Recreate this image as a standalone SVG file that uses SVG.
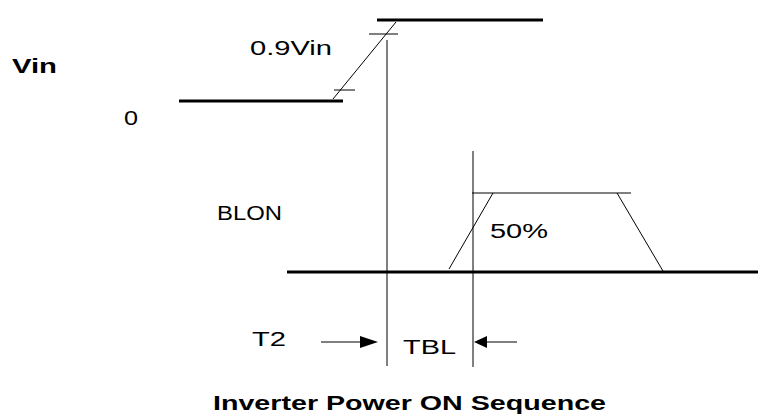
<svg xmlns="http://www.w3.org/2000/svg" width="759" height="414" viewBox="0 0 759 414">
<style>
.t{font-family:"Liberation Sans",Arial,sans-serif;font-size:20px;fill:#000}
.b{font-weight:bold}
.thick{stroke:#000;stroke-width:3;fill:none}
.thin{stroke:#000;stroke-width:1;fill:none}
.head{fill:#000;stroke:none}
</style>
<rect width="759" height="414" fill="#fff"/>
<g id="labels">
<text class="t b" x="12" y="73" font-size="22" textLength="45" lengthAdjust="spacingAndGlyphs">Vin</text>
<text class="t" x="124" y="125" textLength="14" lengthAdjust="spacingAndGlyphs">0</text>
<text class="t" x="250" y="55" textLength="82" lengthAdjust="spacingAndGlyphs">0.9Vin</text>
<text class="t" x="217" y="220" textLength="65" lengthAdjust="spacingAndGlyphs">BLON</text>
<text class="t" x="490" y="238" textLength="58" lengthAdjust="spacingAndGlyphs">50%</text>
<text class="t" x="252" y="346" textLength="34" lengthAdjust="spacingAndGlyphs">T2</text>
<text class="t" x="403" y="354" textLength="53" lengthAdjust="spacingAndGlyphs">TBL</text>
<text class="t b" x="213" y="410" textLength="393" lengthAdjust="spacingAndGlyphs">Inverter Power ON Sequence</text>
</g>
<g id="vin-signal">
<line class="thick" x1="179" y1="101" x2="343" y2="101"/>
<line class="thick" x1="377" y1="20" x2="543" y2="20"/>
<line class="thin" x1="333" y1="99" x2="396" y2="22"/>
<line class="thin" x1="369" y1="34" x2="398" y2="34"/>
<line class="thin" x1="334" y1="90" x2="355" y2="90"/>
</g>
<g id="blon-signal">
<line class="thick" x1="287" y1="272" x2="758" y2="272"/>
<line class="thin" x1="472" y1="193" x2="631" y2="193" stroke-width="2"/>
<line class="thin" x1="449" y1="269" x2="493" y2="193"/>
<line class="thin" x1="617" y1="193" x2="663" y2="271"/>
</g>
<g id="connectors">
<line class="thin" x1="387" y1="40" x2="387" y2="366"/>
<line class="thin" x1="473" y1="151" x2="473" y2="367"/>
<line class="thin" x1="321" y1="342" x2="361" y2="342"/>
<polygon class="head" points="360,336 378,342 360,348"/>
<line class="thin" x1="486" y1="342" x2="517" y2="342"/>
<polygon class="head" points="487,336 474,342 487,348"/>
</g>
</svg>
